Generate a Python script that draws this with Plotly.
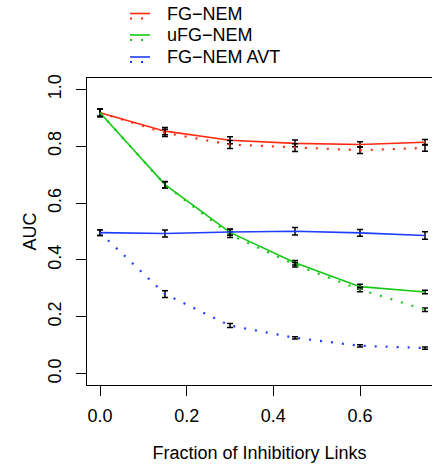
import plotly.graph_objects as go

# ---- data ----
frac = [0.0, 0.15, 0.30, 0.45, 0.60, 0.75]

fg_nem = [0.918, 0.853, 0.821, 0.810, 0.806, 0.814]
fg_nem_sd = [0.013, 0.013, 0.012, 0.012, 0.010, 0.010]
fg_nem_d = [0.918, 0.847, 0.806, 0.795, 0.786, 0.794]
fg_nem_d_sd = [0.013, 0.013, 0.014, 0.014, 0.012, 0.012]

ufg_nem = [0.918, 0.665, 0.497, 0.390, 0.306, 0.287]
ufg_nem_sd = [0.013, 0.011, 0.010, 0.008, 0.008, 0.006]
ufg_nem_d = [0.918, 0.664, 0.489, 0.383, 0.296, 0.225]
ufg_nem_d_sd = [0.013, 0.011, 0.010, 0.008, 0.008, 0.006]

avt = [0.496, 0.493, 0.498, 0.501, 0.495, 0.486]
avt_sd = [0.010, 0.012, 0.011, 0.013, 0.012, 0.013]
avt_d = [0.496, 0.280, 0.169, 0.126, 0.098, 0.090]
avt_d_sd = [0.010, 0.012, 0.007, 0.004, 0.004, 0.004]

legend_labels = ["FG\u2212NEM", "uFG\u2212NEM", "FG\u2212NEM AVT"]
colors = ["#ff2a10", "#14c814", "#1f3dff"]
x_ticks = [0.0, 0.2, 0.4, 0.6]
y_ticks = [0.0, 0.2, 0.4, 0.6, 0.8, 1.0]

FONT = "Arial, Liberation Sans, Helvetica, sans-serif"
FS = 18
DOT = "2px,9px"

fig = go.Figure()

series = [
    (fg_nem, fg_nem_sd, colors[0], "solid"),
    (fg_nem_d, fg_nem_d_sd, colors[0], DOT),
    (ufg_nem, ufg_nem_sd, colors[1], "solid"),
    (ufg_nem_d, ufg_nem_d_sd, colors[1], DOT),
    (avt, avt_sd, colors[2], "solid"),
    (avt_d, avt_d_sd, colors[2], DOT),
]
for ys, sd, col, dash in series:
    fig.add_trace(go.Scatter(
        x=frac, y=ys, mode="lines",
        line=dict(color=col, width=1.6 if dash == "solid" else 2.2, dash=dash),
        error_y=dict(type="data", array=sd, visible=True, color="black",
                     thickness=1.5, width=3),
        showlegend=False, hoverinfo="skip",
    ))

# plot geometry
W, H = 432, 464
L, R, T, B = 87, 0, 78, 79
pw, ph = W - L - R, H - T - B

def px(x):
    return (x - L) / pw

def py(y):
    return (H - B - y) / ph

shapes = []
annotations = []
leg_rows = [13.5, 35.0, 57.0]
for i, (lab, col) in enumerate(zip(legend_labels, colors)):
    yy = leg_rows[i]
    shapes.append(dict(type="line", xref="paper", yref="paper",
                       x0=px(130), x1=px(150), y0=py(yy), y1=py(yy),
                       line=dict(color=col, width=1.6)))
    shapes.append(dict(type="line", xref="paper", yref="paper",
                       x0=px(130), x1=px(152), y0=py(yy + 5), y1=py(yy + 5),
                       line=dict(color=col, width=2.2, dash=DOT)))
    annotations.append(dict(xref="paper", yref="paper", x=px(165), y=py(yy + 0.5),
                            text=lab, showarrow=False, xanchor="left",
                            yanchor="middle",
                            font=dict(family=FONT, size=FS, color="black")))

fig.update_layout(
    width=W, height=H,
    margin=dict(l=L, r=R, t=T, b=B, pad=0),
    paper_bgcolor="white", plot_bgcolor="white",
    font=dict(family=FONT, size=FS, color="black"),
    shapes=shapes, annotations=annotations,
    xaxis=dict(range=[-0.03, -0.03 + pw / 433.33], tickvals=x_ticks,
               ticktext=[f"{v:.1f}" for v in x_ticks],
               showgrid=False, zeroline=False, showline=True, mirror=True,
               linecolor="black", linewidth=1.2, ticks="outside", ticklen=10,
               tickwidth=1.2, tickcolor="black", ticklabelstandoff=4,
               title=dict(text="Fraction of Inhibitiory Links", standoff=21,
                          font=dict(size=FS))),
    yaxis=dict(range=[-0.04, 1.04], tickvals=y_ticks,
               ticktext=[f"{v:.1f}" for v in y_ticks], tickangle=-90,
               showgrid=False, zeroline=False, showline=True, mirror=False,
               linecolor="black", linewidth=1.2, ticks="outside", ticklen=10,
               tickwidth=1.2, tickcolor="black", ticklabelstandoff=8,
               title=dict(text="AUC", standoff=3, font=dict(size=FS))),
)

fig.write_html("out.html")
